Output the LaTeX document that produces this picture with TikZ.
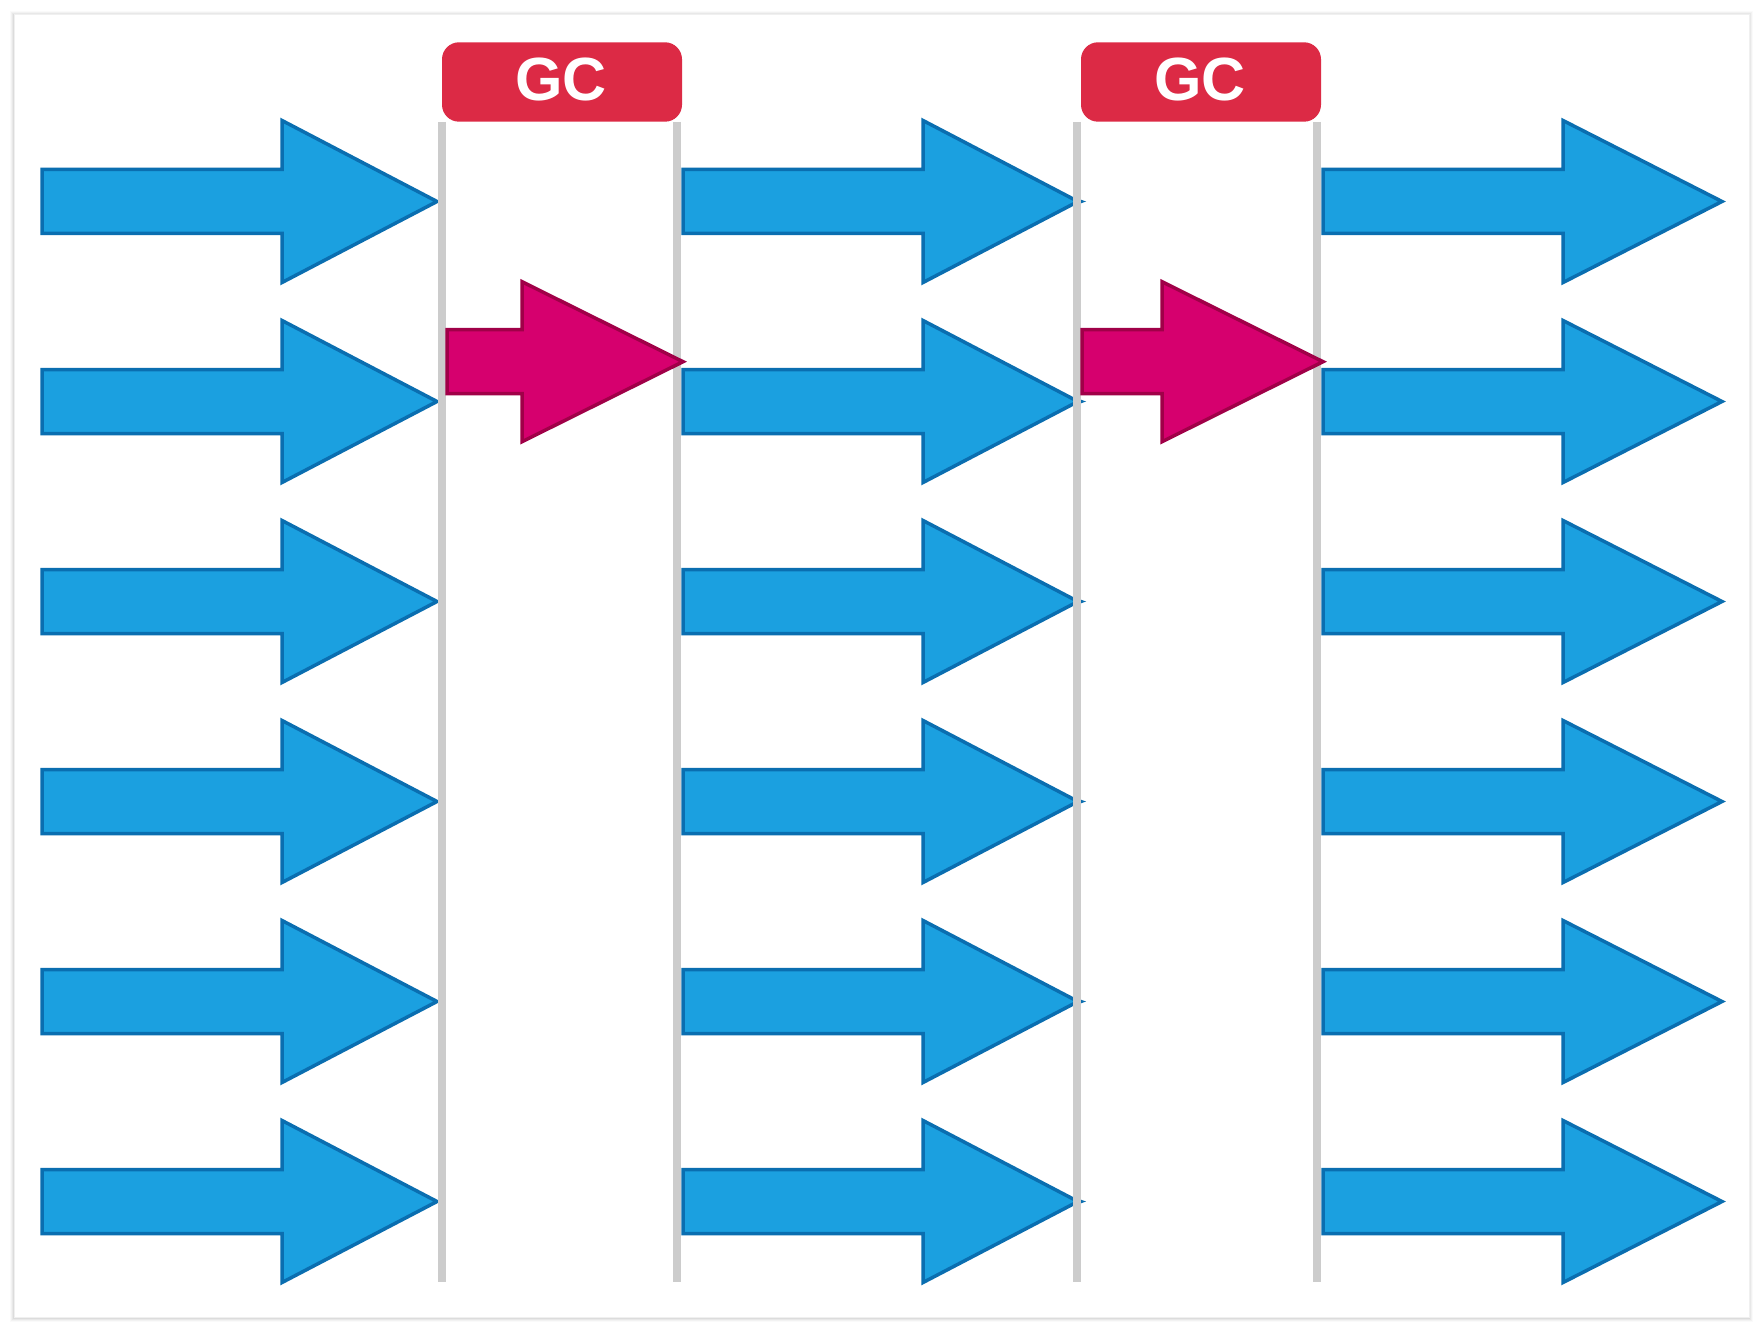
\documentclass[tikz,border=0pt]{standalone}
\usepackage{fontspec}
\setsansfont{Liberation Sans}
\definecolor{bluefill}{RGB}{27,160,224}
\definecolor{bluedraw}{RGB}{10,110,176}
\definecolor{magfill}{RGB}{214,0,110}
\definecolor{magdraw}{RGB}{160,0,72}
\definecolor{gcred}{RGB}{220,42,69}
\definecolor{rail}{RGB}{204,204,204}
\tikzset{
  bluearrow/.style={fill=bluefill,draw=bluedraw,line width=3.5pt,line join=miter},
  magarrow/.style={fill=magfill,draw=magdraw,line width=3.5pt,line join=miter},
  railline/.style={draw=rail,line width=8pt},
  gcbox/.style={fill=gcred,rounded corners=17pt},
  gctext/.style={text=white,font=\sffamily\bfseries\fontsize{61}{63}\selectfont,inner sep=0pt},
  tinytip/.style={fill=bluedraw}
}
% left x, head base x, tip x, centre y, shaft half, head half, style
\newcommand\blockarrow[7]{%
  \draw[#7] (#1,#4-#5) -- (#2,#4-#5) -- (#2,#4-#6) -- (#3,#4) -- (#2,#4+#6)
    -- (#2,#4+#5) -- (#1,#4+#5) -- cycle;}
\begin{document}
\begin{tikzpicture}[x=1pt,y=-1pt]
\useasboundingbox (0,0) rectangle (1764,1332);
\fill[white] (0,0) rectangle (1764,1332);
% card shadow
\foreach \o/\a in {4/0.02,3/0.03,2/0.04,1/0.05}{
  \fill[black,opacity=\a] (14-\o,14-\o+1) rectangle (1749+\o,1317+\o+1);
}
\fill[white] (14,14) rectangle (1749,1317);
\draw[black!6,line width=0.8pt] (14,14) rectangle (1749,1317);
% blue arrows
\foreach \cy in {201.5,401.5,601.5,801.5,1001.5,1201.5}{
  \blockarrow{42}{282}{437}{\cy}{32}{81}{bluearrow}
  \blockarrow{683}{923}{1078}{\cy}{32}{81}{bluearrow}
  \fill[tinytip] (1079,\cy-2.5) -- (1086,\cy) -- (1079,\cy+2.5) -- cycle;
  \blockarrow{1323}{1563}{1722}{\cy}{32}{81}{bluearrow}
}
% rails
\foreach \x in {441.7,677.3,1077.3,1317.3}{
  \draw[railline] (\x,122) -- (\x,1282);
}
% magenta arrows
\blockarrow{447}{522}{683}{361.7}{32}{80}{magarrow}
\blockarrow{1082}{1162}{1323}{361.7}{32}{80}{magarrow}
% GC boxes
\fill[gcbox] (442,42.3) rectangle (682,121.7);
\fill[gcbox] (1081,42.3) rectangle (1321,121.7);
\node[gctext] (gc1) at (561,80) {GC};
\node[gctext] (gc2) at (1200,80) {GC};
\end{tikzpicture}
\end{document}
